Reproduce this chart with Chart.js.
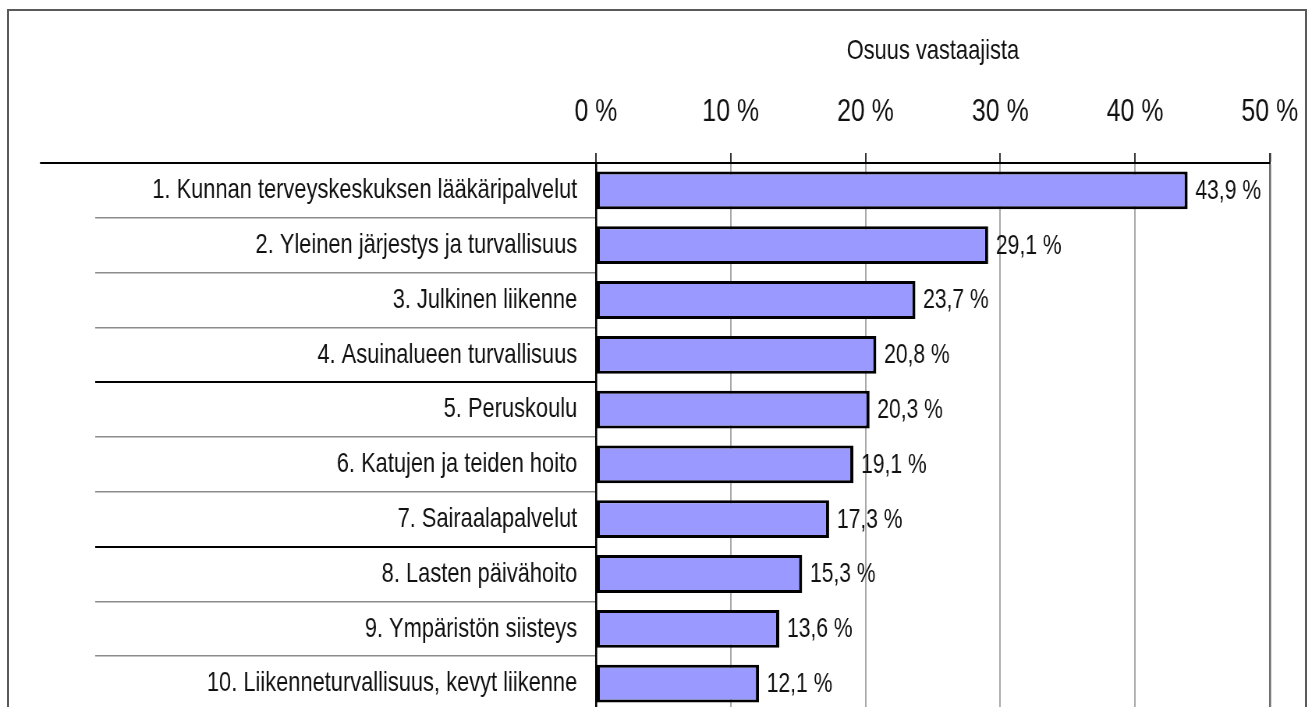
<!DOCTYPE html>
<html>
<head>
<meta charset="utf-8">
<script src="https://cdn.jsdelivr.net/npm/chart.js@4"></script>
<style>
    html, body { margin: 0; padding: 0; background: #fff; overflow: hidden; }
    #wrap { position: relative; width: 1314px; height: 707px; }
    #frame { position: absolute; left: 7px; top: 9px; width: 1296px; height: 800px; border: 2px solid #5a5a5a; }
    /* the reference uses a narrow face; squeeze the whole drawing sideways */
    #chart { position: absolute; left: 0; top: 0; transform: scaleX(0.78); transform-origin: 0 0; }
</style>
</head>
<body>
<div id="wrap">
    <div id="frame"></div>
    <canvas id="chart" width="1685" height="720"></canvas>
</div>
<script>
// Data
const categories = [
    '1. Kunnan terveyskeskuksen lääkäripalvelut',
    '2. Yleinen järjestys ja turvallisuus',
    '3. Julkinen liikenne',
    '4. Asuinalueen turvallisuus',
    '5. Peruskoulu',
    '6. Katujen ja teiden hoito',
    '7. Sairaalapalvelut',
    '8. Lasten päivähoito',
    '9. Ympäristön siisteys',
    '10. Liikenneturvallisuus, kevyt liikenne'
];
const shares = [43.9, 29.1, 23.7, 20.8, 20.3, 19.1, 17.3, 15.3, 13.6, 12.1];
const tickValues = [0, 10, 20, 30, 40, 50];
const axisTitle = 'Osuus vastaajista';

const SX = 0.78; // horizontal squeeze used in the css above
const FONT = "'Liberation Sans', Arial, sans-serif";

function formatPct(v) {
    return v.toFixed(1).replace('.', ',') + ' %';
}

// Value labels to the right of each bar
const valueLabels = {
    id: 'valueLabels',
    afterDatasetsDraw(chart) {
        const ctx = chart.ctx;
        const meta = chart.getDatasetMeta(0);
        ctx.save();
        ctx.font = '27px ' + FONT;
        ctx.fillStyle = '#111';
        ctx.textAlign = 'left';
        ctx.textBaseline = 'middle';
        meta.data.forEach(function (bar, i) {
            ctx.fillText(formatPct(shares[i]), bar.x + 10, bar.y + 1);
        });
        ctx.restore();
    }
};

// Top rule extends a bit further left than the row separators
const topRule = {
    id: 'topRule',
    afterDraw(chart) {
        const ctx = chart.ctx;
        const area = chart.chartArea;
        ctx.save();
        ctx.strokeStyle = '#000';
        ctx.lineWidth = 2;
        ctx.beginPath();
        ctx.moveTo(40 / SX, area.top);
        ctx.lineTo(area.left, area.top);
        ctx.stroke();
        ctx.restore();
    }
};

const leftWidth = Math.round(596 / SX);        // label column
const rowRuleStart = Math.round(95 / SX);      // separators start here
const rightEdge = Math.round(1270 / SX);       // 50 % line

const ctx = document.getElementById('chart').getContext('2d');
const chart = new Chart(ctx, {
    type: 'bar',
    data: {
        labels: categories,
        datasets: [{
            data: shares,
            backgroundColor: '#9999ff',
            borderColor: '#000',
            borderWidth: { top: 3, bottom: 3, left: 4, right: 4 },
            borderSkipped: false,
            barPercentage: 0.69,
            categoryPercentage: 1
        }]
    },
    options: {
        indexAxis: 'y',
        responsive: false,
        animation: false,
        layout: { padding: { top: 0, right: 1685 - rightEdge, bottom: 9, left: 0 } },
        plugins: {
            legend: { display: false },
            tooltip: { enabled: false }
        },
        scales: {
            x: {
                position: 'top',
                min: 0,
                max: 50,
                afterBuildTicks: function (axis) {
                    axis.ticks = tickValues.map(v => ({ value: v }));
                },
                afterFit: function (axis) {
                    axis.height = 163;
                    axis.paddingLeft = 0;
                    axis.paddingRight = 0;
                },
                ticks: {
                    callback: v => v + ' %',
                    font: { family: FONT, size: 32 },
                    color: '#111',
                    padding: 22,
                    maxRotation: 0
                },
                grid: {
                    color: c => c.index === 0 ? '#000' : (c.index === 5 ? '#6e6e6e' : '#a8a8a8'),
                    lineWidth: c => c.index === 5 ? 2.6 : 2,
                    tickColor: '#333',
                    tickLength: 10
                },
                border: { display: true, color: '#000', width: 2 },
                title: {
                    display: true,
                    text: axisTitle,
                    font: { family: FONT, size: 28 },
                    color: '#111',
                    padding: { top: 34, bottom: 0 }
                }
            },
            y: {
                afterFit: function (axis) { axis.width = leftWidth; },
                ticks: {
                    font: { family: FONT, size: 28 },
                    color: '#111',
                    padding: 24 - (leftWidth - rowRuleStart)
                },
                grid: {
                    drawOnChartArea: false,
                    offset: true,
                    tickLength: leftWidth - rowRuleStart,
                    color: c => (c.index === 0 || c.index === 4 || c.index === 7) ? '#000' : '#8c8c8c',
                    lineWidth: c => (c.index === 0 || c.index === 4 || c.index === 7) ? 2 : 1.5
                },
                border: { display: true, color: '#000', width: 2.6 }
            }
        }
    },
    plugins: [valueLabels, topRule]
});
</script>
</body>
</html>
